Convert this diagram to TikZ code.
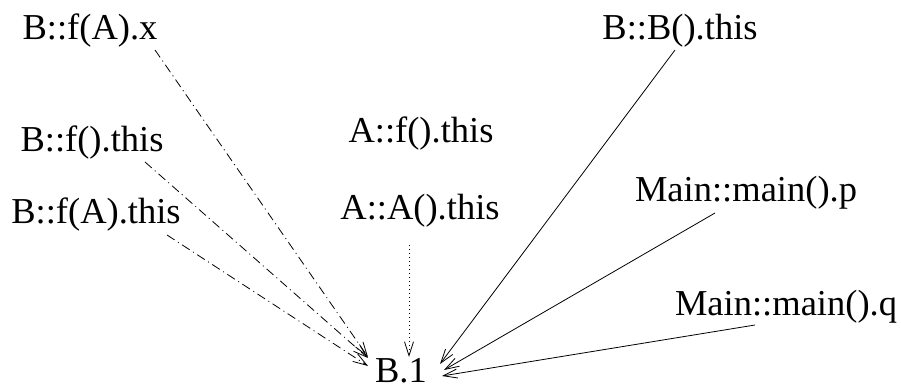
\documentclass[tikz,border=0pt]{standalone}
\usepackage{fontspec}
\setmainfont{Liberation Serif}
\usetikzlibrary{arrows.meta,calc}
\tikzset{
  lbl/.style={inner sep=0pt, anchor=base, font=\fontsize{36.5}{40}\selectfont},
  ptr/.style={line width=0.8pt, -{Straight Barb[length=14pt,width=9pt,line width=0.8pt]}},
  dashdot/.style={ptr, dash pattern=on 9pt off 4pt on 1pt off 4pt},
  dotline/.style={ptr, dash pattern=on 1pt off 3pt}
}
\begin{document}
\begin{tikzpicture}[x=1pt,y=-1pt]
\useasboundingbox (0,0) rectangle (901,387);
% variables
\node[lbl] (fAx)    at (90,40)   {B::f(A).x};
\node[lbl] (fthis)  at (92,152)  {B::f().this};
\node[lbl] (fAthis) at (96,223)  {B::f(A).this};
\node[lbl] (Afthis) at (421,143) {A::f().this};
\node[lbl] (AAthis) at (420,220) {A::A().this};
\node[lbl] (BBthis) at (680,40)  {B::B().this};
\node[lbl] (mainp)  at (746,202) {Main::main().p};
\node[lbl] (mainq)  at (786,315) {Main::main().q};
% object
\node[lbl] (b1)     at (401,382) {B.1};
% points-to edges
\draw[dashdot] ($(fAx.base)+(65,10)$)    -- ($(b1.base)+(-33,-25)$);
\draw[dashdot] ($(fthis.base)+(53,10)$)  -- ($(b1.base)+(-33,-24)$);
\draw[dashdot] ($(fAthis.base)+(71,12)$) -- ($(b1.base)+(-33,-16)$);
\draw[dotline] ($(AAthis.base)+(-11,25)$) -- ($(b1.base)+(8,-25)$);
\draw[ptr] ($(BBthis.base)+(-5,10)$)  -- ($(b1.base)+(39,-18)$);
\draw[ptr] ($(mainp.base)+(-31,11)$)  -- ($(b1.base)+(43,-12)$);
\draw[ptr] ($(mainq.base)+(-31,10)$)  -- ($(b1.base)+(41,-6)$);
\end{tikzpicture}
\end{document}
